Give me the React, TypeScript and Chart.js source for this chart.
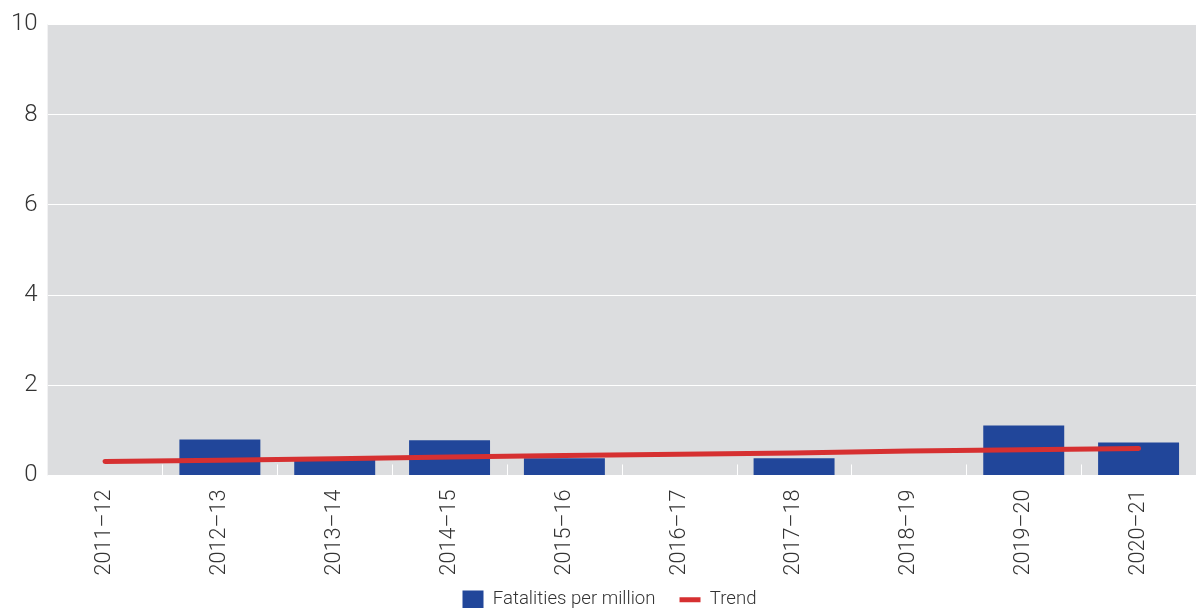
import React, { useEffect, useRef } from "react";
import { Chart, registerables } from "chart.js";

Chart.register(...registerables);

// Financial years on the category axis
const years = [
  "2011–12",
  "2012–13",
  "2013–14",
  "2014–15",
  "2015–16",
  "2016–17",
  "2017–18",
  "2018–19",
  "2019–20",
  "2020–21",
];

// Fatalities per million for each year
const fatalities = [0, 0.8, 0.36, 0.78, 0.38, 0, 0.38, 0, 1.11, 0.73];

// Linear trend across the period
const trend = [0.31, 0.34, 0.37, 0.41, 0.44, 0.47, 0.5, 0.54, 0.57, 0.6];

const yMin = 0;
const yMax = 10;
const yStep = 2;

const FONT = "Roboto, 'Noto Sans', sans-serif";
const TEXT = "#333333";
const BAR_BLUE = "#21469a";
const TREND_RED = "#d63031";
const PLOT_GREY = "#dcdddf";

// Fills the plotting area with a flat grey panel behind the grid
const plotBackground = {
  id: "plotBackground",
  beforeDraw(chart: any) {
    const { ctx, chartArea } = chart;
    if (!chartArea) return;
    ctx.save();
    ctx.fillStyle = PLOT_GREY;
    ctx.fillRect(chartArea.left, chartArea.top, chartArea.width, chartArea.height);
    ctx.restore();
  },
};

// The category labels are allowed to run past the (tightened) axis box
const unclippedCategoryLabels = {
  id: "unclippedCategoryLabels",
  beforeDraw(chart: any) {
    const x = chart.scales.x;
    if (x) x._computeLabelArea = () => undefined;
  },
};

// Nudges the legend row a little to the right of the canvas centre
const legendOffset = {
  id: "legendOffset",
  afterLayout(chart: any) {
    const legend = chart.legend;
    if (!legend) return;
    legend.left += 11;
    legend.right += 11;
  },
};

// Short white marks at the boundaries between categories, rising from the baseline
const categoryMarks = {
  id: "categoryMarks",
  afterDraw(chart: any) {
    const { ctx, chartArea, scales } = chart;
    const x = scales.x;
    ctx.save();
    ctx.strokeStyle = "#ffffff";
    ctx.lineWidth = 1;
    for (let i = 1; i < years.length; i++) {
      const px = Math.round((x.getPixelForValue(i - 1) + x.getPixelForValue(i)) / 2) + 0.5;
      ctx.beginPath();
      ctx.moveTo(px, chartArea.bottom);
      ctx.lineTo(px, chartArea.bottom - 11);
      ctx.stroke();
    }
    ctx.restore();
  },
};

export default function App() {
  const canvasRef = useRef<HTMLCanvasElement | null>(null);

  useEffect(() => {
    document.body.style.margin = "0";
    const canvas = canvasRef.current;
    if (!canvas) return;

    const chart = new Chart(canvas, {
      type: "bar",
      data: {
        labels: years,
        datasets: [
          {
            type: "line",
            label: "Trend",
            data: trend,
            borderColor: TREND_RED,
            backgroundColor: TREND_RED,
            borderWidth: 5,
            borderCapStyle: "round",
            pointRadius: 0,
            pointHoverRadius: 0,
            pointStyle: "line",
            tension: 0,
            order: 0,
          } as any,
          {
            type: "bar",
            label: "Fatalities per million",
            data: fatalities,
            backgroundColor: BAR_BLUE,
            borderWidth: 0,
            barPercentage: 0.705,
            categoryPercentage: 1,
            pointStyle: "rect",
            order: 1,
          } as any,
        ],
      },
      options: {
        responsive: false,
        animation: false,
        devicePixelRatio: 1,
        layout: { padding: { top: 11, right: 0, left: 1, bottom: -11 } },
        plugins: {
          legend: {
            position: "bottom",
            reverse: true,
            labels: {
              usePointStyle: true,
              pointStyleWidth: 21,
              boxHeight: 20,
              padding: 24,
              color: TEXT,
              font: { family: FONT, size: 18.6, weight: 300 as any },
            },
          },
          tooltip: { enabled: false },
        },
        scales: {
          x: {
            grid: { display: false },
            border: { display: false },
            afterFit(scale: any) {
              scale.height = scale.height - 15;
            },
            ticks: {
              color: TEXT,
              font: { family: FONT, size: 21.6, weight: 300 as any },
              minRotation: 90,
              maxRotation: 90,
              padding: 6,
            },
          },
          y: {
            min: yMin,
            max: yMax,
            grid: { color: "#ffffff", lineWidth: 1, drawTicks: false },
            border: { display: false },
            ticks: {
              stepSize: yStep,
              color: TEXT,
              font: { family: FONT, size: 24, weight: 300 as any },
              padding: 10,
            },
          },
        },
      },
      plugins: [plotBackground, unclippedCategoryLabels, legendOffset, categoryMarks],
    });

    return () => chart.destroy();
  }, []);

  return (
    <div style={{ width: 1196, height: 608 }}>
      <canvas ref={canvasRef} width={1196} height={608} style={{ display: "block" }} />
    </div>
  );
}
